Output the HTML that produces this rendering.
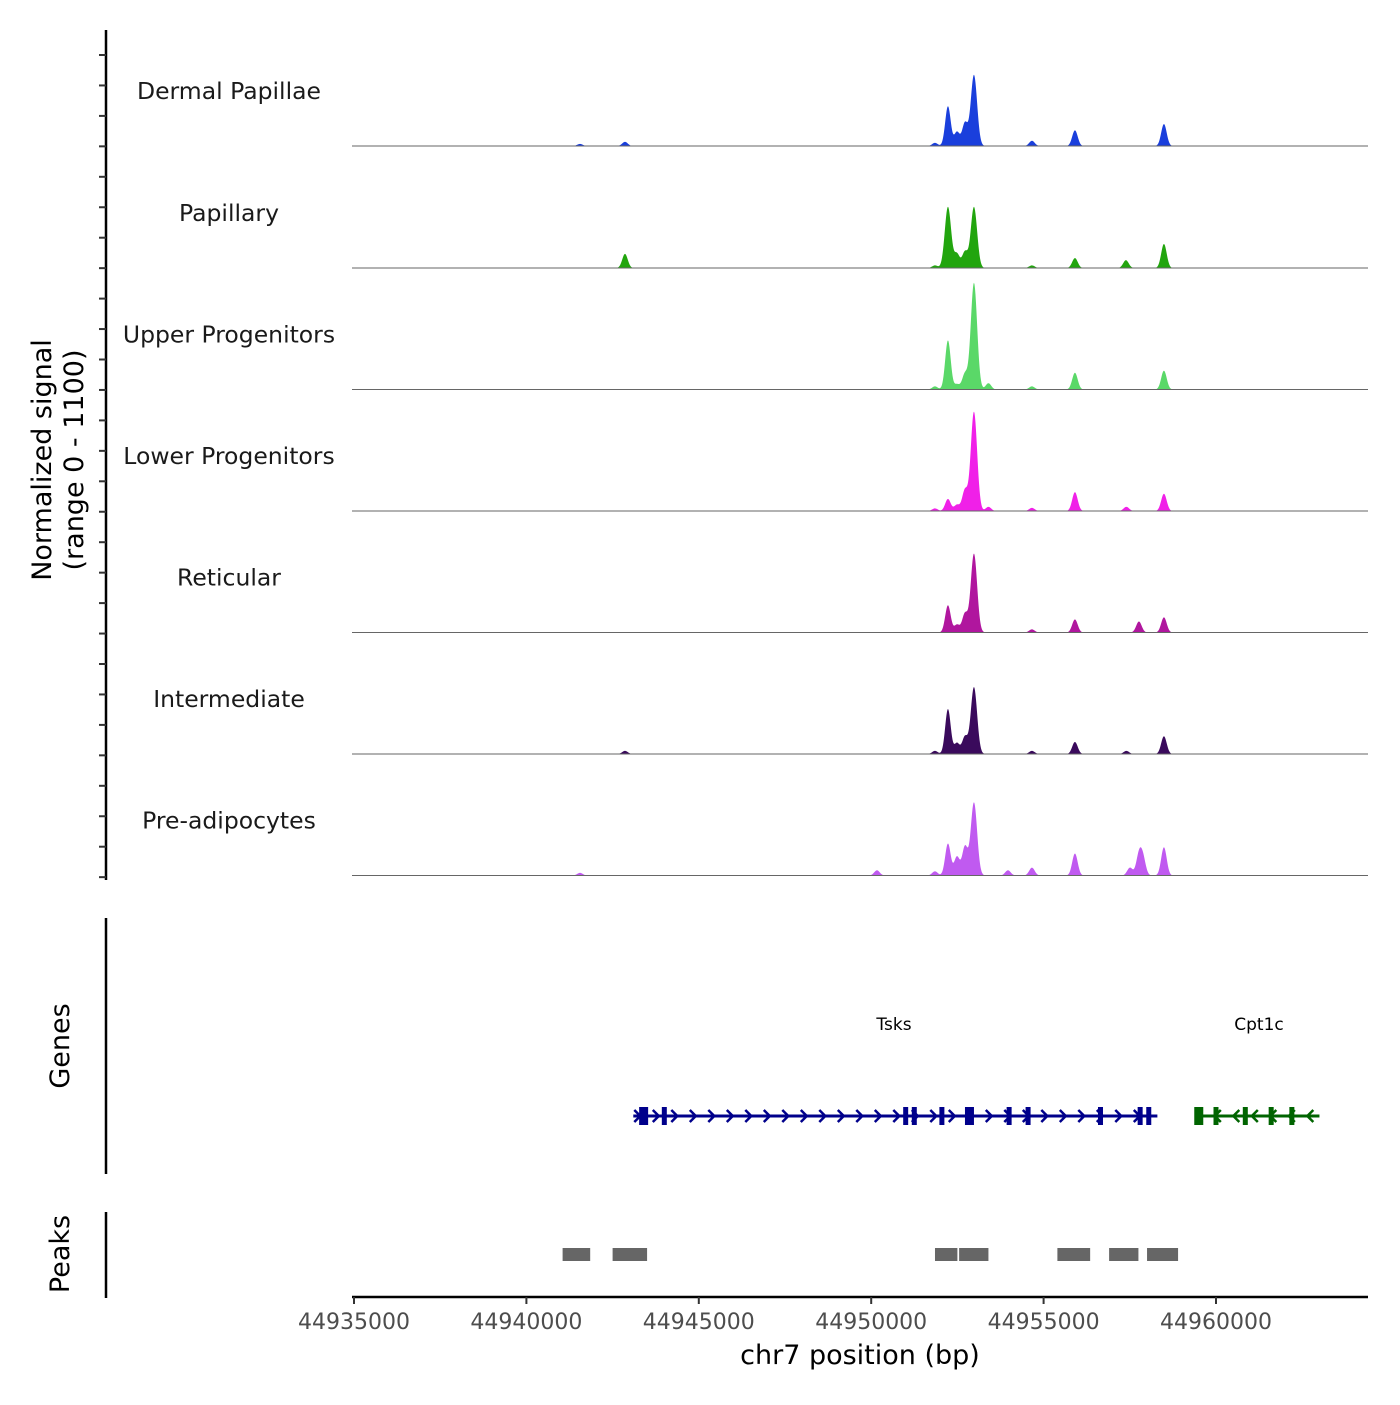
<!DOCTYPE html>
<html><head><meta charset="utf-8"><style>
body{margin:0;background:#fff;}
svg text{font-family:"DejaVu Sans","Liberation Sans",sans-serif;}
</style></head><body>
<svg id="chart" width="1400" height="1400" xmlns="http://www.w3.org/2000/svg"></svg>
<script>
const xDomain = [44935000, 44964500];
const xTicks = [44935000, 44940000, 44945000, 44950000, 44955000, 44960000];
const trackNames = ["Dermal Papillae","Papillary","Upper Progenitors","Lower Progenitors","Reticular","Intermediate","Pre-adipocytes"];
const trackColors = ["#1a3fdc","#22a50e","#5ad868","#f020e8","#b0169e","#3a0a5c","#c05af0"];
const peakPos = [
 [44941554,44942859,44951849,44952226,44952487,44952719,44952980,44954662,44955909,44958490],
 [44942859,44951849,44952226,44952487,44952719,44952980,44954662,44955909,44957388,44958490],
 [44951849,44952226,44952487,44952719,44952980,44953400,44954662,44955909,44958490],
 [44951849,44952226,44952487,44952719,44952980,44953400,44954662,44955909,44957400,44958490],
 [44952226,44952487,44952719,44952980,44954662,44955909,44957765,44958490],
 [44942859,44951849,44952226,44952487,44952719,44952980,44954662,44955909,44957400,44958490],
 [44941554,44950167,44951849,44952226,44952487,44952719,44952980,44953966,44954662,44955909,44957504,44957765,44957881,44958490]
];
const peakVal = [
 [20,40,30,380,135,220,680,50,150,210],
 [135,25,585,135,155,585,25,95,75,230],
 [30,470,50,150,1020,60,30,160,180],
 [25,115,60,200,950,40,30,180,40,165],
 [260,75,180,755,30,125,105,145],
 [30,30,430,105,165,640,30,115,30,170],
 [25,50,40,305,180,275,700,50,75,210,75,190,160,270]
];
const peakWidth = [80,80,80,80,80,80,80];
const genePos = {tsks:[44943100,44958300], cpt1c:[44959400,44963000]};
const tsksExons = [44943400,44944000,44951000,44951250,44952050,44952850,44954000,44954550,44956650,44957800,44958050];
const cpt1cExons = [44959500,44960000,44960850,44961600,44962200];
const peakRegions = [[44941050,44941850],[44942500,44943500],[44951850,44952500],[44952550,44953400],[44955400,44956350],[44956900,44957750],[44958000,44958900]];

const svg = document.getElementById('chart');
const NS = 'http://www.w3.org/2000/svg';
const X0 = 354, PXPB = 862/25000;
const xs = v => X0 + (v - xDomain[0]) * PXPB;
const UNIT = 115/1100;
function mk(tag, attrs, parent){const e=document.createElementNS(NS,tag);for(const k in attrs)e.setAttribute(k,attrs[k]);(parent||svg).appendChild(e);return e;}

const ax = mk('line',{x1:106,y1:30,x2:106,y2:880,stroke:'#000','stroke-width':2.5});


for(let i=0;i<28;i++){const y=55+i*30.45;
 const t=mk('line',{x1:99,y1:y,x2:106,y2:y,stroke:'#333','stroke-width':2});
 
 }
const yt = mk('text',{transform:'translate(51,460) rotate(-90)','text-anchor':'middle','font-size':27,fill:'#000'});


yt.innerHTML='<tspan x="0" dy="0">Normalized signal</tspan><tspan x="0" dy="32">(range 0 - 1100)</tspan>';

const baselines=[146,268,389.5,511,632.5,754,875.5];
trackNames.forEach((name,ti)=>{
 const base=baselines[ti];
 const lab=mk('text',{x:229,y:base-47,'text-anchor':'middle','font-size':23.5,fill:'#1a1a1a'});
 
 
 lab.textContent=name;
 let d='M352,'+base;
 for(let px=352;px<=1368;px+=0.5){
  let v=0;
  peakPos[ti].forEach((c,j)=>{const s=peakWidth[ti]*(peakVal[ti][j]>500?1.15:1);const dx=(px-xs(c))/(s*PXPB);v+=peakVal[ti][j]*Math.exp(-0.5*dx*dx);});
  d+=' L'+px+','+(base-Math.min(v,1100)*UNIT).toFixed(2);
 }
 d+=' L1368,'+base+' Z';
 const p=mk('path',{d:d,fill:trackColors[ti]});
 
 
 const bl=mk('line',{x1:352,y1:base,x2:1368,y2:base,stroke:'#666','stroke-width':1});
 
 
});

const ga=mk('line',{x1:106,y1:918,x2:106,y2:1174,stroke:'#000','stroke-width':2.5});


const gt=mk('text',{transform:'translate(69,1046) rotate(-90)','text-anchor':'middle','font-size':27});


gt.textContent='Genes';
function drawGene(range,exons,color,dir,label,name){
 const g=mk('g',{});
 
 
 const a=xs(range[0]),b=xs(range[1]),y=1116;
 mk('line',{x1:a,y1:y,x2:b,y2:y,stroke:color,'stroke-width':3},g);
 for(let x=a+4;x<b-4;x+=18.5){
  const pts=dir>0?`${x-3},${y-6} ${x+3},${y} ${x-3},${y+6}`:`${x+3},${y-6} ${x-3},${y} ${x+3},${y+6}`;
  mk('polyline',{points:pts,fill:'none',stroke:color,'stroke-width':2.5},g);
 }
 exons.forEach((e,i)=>{const w=(i===0||(dir>0&&i===5))?9:5;mk('rect',{x:xs(e)-w/2,y:y-9,width:w,height:18,fill:color},g);});
 const t=mk('text',{x:(a+b)/2,y:1030,'text-anchor':'middle','font-size':17,fill:'#000'},g);
 t.textContent=label;
 return t;
}
const t1=drawGene(genePos.tsks,tsksExons,'#00008b',1,'Tsks','gene-tsks'); t1.setAttribute('x',894);
const t2=drawGene(genePos.cpt1c,cpt1cExons,'#006400',-1,'Cpt1c','gene-cpt1c'); t2.setAttribute('x',1259);

const pa=mk('line',{x1:106,y1:1212,x2:106,y2:1298,stroke:'#000','stroke-width':2.5});


const pt=mk('text',{transform:'translate(69,1254) rotate(-90)','text-anchor':'middle','font-size':27});


pt.textContent='Peaks';
peakRegions.forEach(r=>{
 const rc=mk('rect',{x:xs(r[0]),y:1248,width:xs(r[1])-xs(r[0]),height:13,fill:'#666'});
 
 
});

const xa=mk('line',{x1:352,y1:1297,x2:1368,y2:1297,stroke:'#000','stroke-width':2.5});


xTicks.forEach(v=>{
 const tk=mk('line',{x1:xs(v),y1:1297,x2:xs(v),y2:1304,stroke:'#333','stroke-width':2});
 
 
 const tl=mk('text',{x:xs(v),y:1329,'text-anchor':'middle','font-size':22,fill:'#4d4d4d'});
 
 
 tl.textContent=v;
});
const xt=mk('text',{x:860,y:1364,'text-anchor':'middle','font-size':27});


xt.textContent='chr7 position (bp)';
</script>
</body></html>
